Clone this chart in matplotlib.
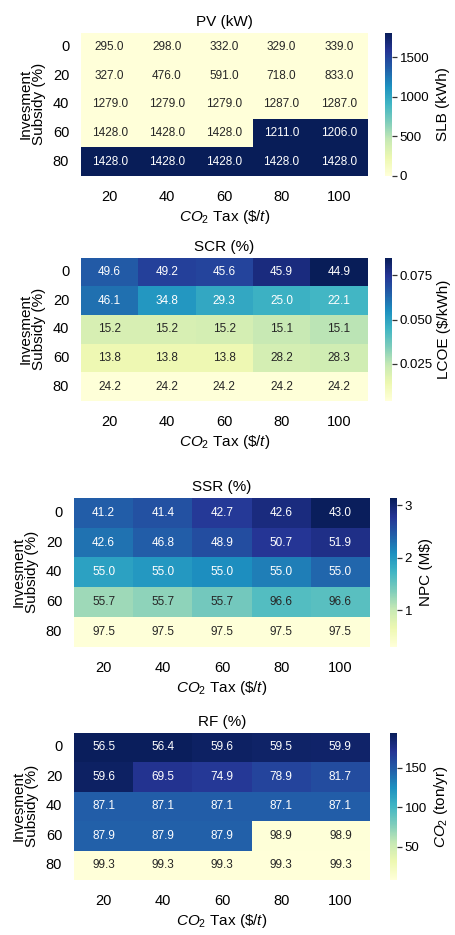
import matplotlib
matplotlib.use('Agg')
import matplotlib.pyplot as plt
from matplotlib.ticker import FormatStrFormatter
import seaborn as sns
import numpy as np

plt.rcParams['font.family'] = ['Liberation Sans', 'DejaVu Sans']
plt.rcParams['mathtext.fontset'] = 'custom'
plt.rcParams['mathtext.rm'] = 'Liberation Sans'
plt.rcParams['mathtext.it'] = 'Liberation Sans:italic'
plt.rcParams['mathtext.bf'] = 'Liberation Sans:bold'

# ---- data ----
subsidy = [0, 20, 40, 60, 80]          # Invesment Subsidy (%)
co2_tax = [20, 40, 60, 80, 100]        # CO2 Tax ($/t)

pv_kw = [[295.0, 298.0, 332.0, 329.0, 339.0],
         [327.0, 476.0, 591.0, 718.0, 833.0],
         [1279.0, 1279.0, 1279.0, 1287.0, 1287.0],
         [1428.0, 1428.0, 1428.0, 1211.0, 1206.0],
         [1428.0, 1428.0, 1428.0, 1428.0, 1428.0]]
slb_kwh = [[0, 0, 0, 0, 0],
           [0, 0, 0, 0, 0],
           [0, 0, 0, 0, 0],
           [0, 0, 0, 1810, 1810],
           [1810, 1810, 1810, 1810, 1810]]

scr_pct = [[49.6, 49.2, 45.6, 45.9, 44.9],
           [46.1, 34.8, 29.3, 25.0, 22.1],
           [15.2, 15.2, 15.2, 15.1, 15.1],
           [13.8, 13.8, 13.8, 28.2, 28.3],
           [24.2, 24.2, 24.2, 24.2, 24.2]]
lcoe = [[0.0656, 0.0720, 0.0710, 0.0785, 0.0850],
        [0.0610, 0.0530, 0.0485, 0.0460, 0.0445],
        [0.0200, 0.0200, 0.0210, 0.0240, 0.0260],
        [0.0137, 0.0137, 0.0137, 0.0210, 0.0218],
        [0.0045, 0.0045, 0.0045, 0.0045, 0.0045]]

ssr_pct = [[41.2, 41.4, 42.7, 42.6, 43.0],
           [42.6, 46.8, 48.9, 50.7, 51.9],
           [55.0, 55.0, 55.0, 55.0, 55.0],
           [55.7, 55.7, 55.7, 96.6, 96.6],
           [97.5, 97.5, 97.5, 97.5, 97.5]]
npc_musd = [[2.43, 2.54, 2.74, 2.91, 3.11],
            [2.29, 2.43, 2.57, 2.77, 2.86],
            [1.92, 2.00, 2.09, 2.20, 2.37],
            [1.21, 1.29, 1.44, 1.62, 1.58],
            [0.32, 0.32, 0.32, 0.32, 0.32]]

rf_pct = [[56.5, 56.4, 59.6, 59.5, 59.9],
          [59.6, 69.5, 74.9, 78.9, 81.7],
          [87.1, 87.1, 87.1, 87.1, 87.1],
          [87.9, 87.9, 87.9, 98.9, 98.9],
          [99.3, 99.3, 99.3, 99.3, 99.3]]
co2_ton = [[192, 192, 189, 188, 187],
           [189, 172, 168, 162, 157],
           [147.5, 147.5, 147.5, 147.5, 147.5],
           [146.5, 146.5, 146.5, 9, 9],
           [8.5, 8.5, 8.5, 8.5, 8.5]]

titles = ['PV (kW)', 'SCR (%)', 'SSR (%)', 'RF (%)']
cbar_labels = ['SLB (kWh)', 'LCOE ($/kWh)', 'NPC (M$)', r'$CO_2$ (ton/yr)']
cbar_ticks = [[0, 500, 1000, 1500], [0.025, 0.050, 0.075], [1, 2, 3], [50, 100, 150]]
cbar_fmt = ['%d', '%.3f', '%d', '%d']
vlims = [(0, 1810), (0.004, 0.085), (0.30, 3.14), (8, 194)]
annots = [pv_kw, scr_pct, ssr_pct, rf_pct]
colors = [slb_kwh, lcoe, npc_musd, co2_ton]

W, H = 455.0, 935.0
# (left, top, right, bottom) in pixels for heatmap; colorbar left/right
boxes = [(81, 32.5, 367.5, 176), (81, 257.5, 367.5, 401),
         (74, 498, 370, 646.7), (74, 732.7, 370, 880)]
cboxes = [(384.5, 392), (384.5, 392), (389.5, 397), (389.5, 397)]
cpads = [5, 3, 5, 4]

fig = plt.figure(figsize=(W / 100, H / 100), dpi=100)

for i in range(4):
    l, t, r, b = boxes[i]
    ax = fig.add_axes([l / W, 1 - b / H, (r - l) / W, (b - t) / H])
    cl, cr = cboxes[i]
    cax = fig.add_axes([cl / W, 1 - b / H, (cr - cl) / W, (b - t) / H])
    vmin, vmax = vlims[i]
    sns.heatmap(np.array(colors[i], dtype=float), annot=np.array(annots[i]), fmt='.1f',
                cmap='YlGnBu', vmin=vmin, vmax=vmax, ax=ax, cbar_ax=cax,
                xticklabels=co2_tax, yticklabels=subsidy,
                annot_kws={'fontsize': 8.5})
    ax.set_title(titles[i], fontsize=11, pad=5)
    ax.set_xlabel(r'$CO_2$ Tax (\$/$t$)', fontsize=11, labelpad=3)
    ax.set_ylabel('Invesment\nSubsidy (%)', fontsize=11, labelpad=5, linespacing=0.95)
    ax.tick_params(axis='both', length=0, labelsize=10.5)
    ax.tick_params(axis='x', pad=10)
    ax.tick_params(axis='y', pad=8.5)
    plt.setp(ax.get_yticklabels(), rotation=0, va='center')
    plt.setp(ax.get_xticklabels(), rotation=0)

    cax.set_yticks(cbar_ticks[i])
    cax.yaxis.set_major_formatter(FormatStrFormatter(cbar_fmt[i]))
    cax.tick_params(length=3.5, width=0.9, labelsize=9.5, pad=2, color='#333333')
    cax.set_ylabel(cbar_labels[i], fontsize=11, labelpad=cpads[i])

fig.savefig('out.png', dpi=100, facecolor='white')
